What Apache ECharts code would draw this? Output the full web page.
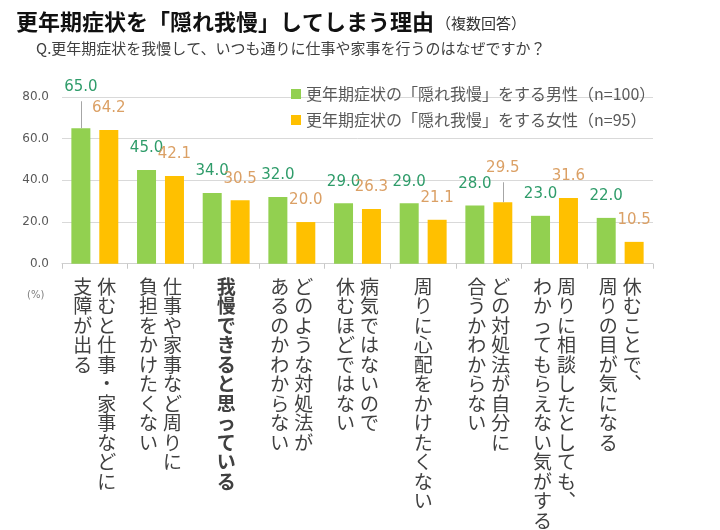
<!DOCTYPE html>
<html><head><meta charset="utf-8">
<script src="https://cdn.jsdelivr.net/npm/echarts@6/dist/echarts.min.js"></script>
<style>html,body{margin:0;padding:0;background:#fff}#c{width:720px;height:530px}</style>
</head><body><div id="c"></div>
<script>
// ---- data ----
const titleText = "更年期症状を「隠れ我慢」してしまう理由";
const titleNote = "（複数回答）";
const subtitleText = "Q.更年期症状を我慢して、いつも通りに仕事や家事を行うのはなぜですか？";
const unitText = "(%)";
// each category: columns separated by "\n" (first column is the rightmost in vertical writing)
const categories = [
  "休むと仕事・家事などに\n支障が出る",
  "仕事や家事など周りに\n負担をかけたくない",
  "我慢できると思っている",
  "どのような対処法が\nあるのかわからない",
  "病気ではないので\n休むほどではない",
  "周りに心配をかけたくない",
  "どの対処法が自分に\n合うかわからない",
  "周りに相談したとしても、\nわかってもらえない気がする",
  "休むことで、\n周りの目が気になる"
];
const seriesNames = [
  "更年期症状の「隠れ我慢」をする男性（n=100）",
  "更年期症状の「隠れ我慢」をする女性（n=95）"
];
const maleValues   = [65.0, 45.0, 34.0, 32.0, 29.0, 29.0, 28.0, 23.0, 22.0];
const femaleValues = [64.2, 42.1, 30.5, 20.0, 26.3, 21.1, 29.5, 31.6, 10.5];
const yMin = 0, yMax = 80, yStep = 20;
const emphasizedCategory = 2;      // bold category label
const maleLeaderIndex = 0;         // labels moved up with a leader line
const femaleLeaderIndex = 6;

// ---- styles ----
const JP = '"Noto Sans CJK JP", "Noto Sans", sans-serif';
const NUM = '"DejaVu Sans", Verdana, sans-serif';
const GREEN = '#92D050', ORANGE = '#FFC000';
const GREEN_LBL = '#2F9C6A', ORANGE_LBL = '#DBA065';
const BAR_W = 19, BAR_GAP = 0.47;
const BAR_HALF_PITCH = (BAR_W + BAR_W * BAR_GAP) / 2;
const LEAD = { 0: { dist: 34, len: 27 }, 1: { dist: 27, len: 20 } };

function verticalLabel(value, index) {
  const cols = String(value).split('\n').map(s => Array.from(s.replace(/、/g, '︑')));
  const n = Math.max(...cols.map(c => c.length));
  const st = index === emphasizedCategory ? 'b' : 'c';
  const rows = [];
  for (let i = 0; i < n; i++) {
    let row = '';
    for (let j = cols.length - 1; j >= 0; j--) {
      row += '{' + st + '|' + (cols[j][i] || '　') + '}';
    }
    rows.push(row);
  }
  return rows.join('\n');
}

const maleData = maleValues.map((v, i) => i === maleLeaderIndex
  ? { value: v, label: { distance: LEAD[0].dist } } : v);
const femaleData = femaleValues.map((v, i) => i === femaleLeaderIndex
  ? { value: v, label: { distance: LEAD[1].dist } } : v);
const leaderData = [
  [maleLeaderIndex, maleValues[maleLeaderIndex], 0],
  [femaleLeaderIndex, femaleValues[femaleLeaderIndex], 1]
];

const chart = echarts.init(document.getElementById('c'), null, { renderer: 'canvas' });
chart.setOption({
  backgroundColor: '#ffffff',
  animation: false,
  title: [
    {
      text: '{a|' + titleText + '}{b|' + titleNote + '}',
      left: 16, top: 11, padding: 0,
      textStyle: {
        rich: {
          a: { fontFamily: JP, fontSize: 22, fontWeight: 'bold', color: '#111111' },
          b: { fontFamily: JP, fontSize: 15, fontWeight: 'normal', color: '#333333', padding: [3, 0, 0, 2] }
        }
      }
    },
    {
      text: subtitleText,
      left: 36, top: 41, padding: 0,
      textStyle: { fontFamily: JP, fontSize: 15, fontWeight: 'normal', color: '#404040' }
    }
  ],
  graphic: [{
    type: 'text', left: 27, top: 290,
    style: { text: unitText, fontFamily: NUM, fontSize: 10, fill: '#808080' }
  }],
  legend: {
    orient: 'vertical', left: 291, top: 86, padding: 0,
    itemWidth: 10, itemHeight: 10, itemGap: 10, icon: 'rect',
    data: seriesNames,
    textStyle: { fontFamily: JP, fontSize: 16, color: '#595959' }
  },
  grid: { left: 62, right: 67, top: 97, bottom: 263, containLabel: false },
  xAxis: {
    type: 'category', data: categories,
    axisLine: { lineStyle: { color: '#D0D0D0' } },
    axisTick: { show: true, length: 5, lineStyle: { color: '#C8C8C8' } },
    axisLabel: {
      interval: 0, margin: 13, formatter: verticalLabel,
      rich: {
        c: { width: 24, align: 'center', fontFamily: JP, fontSize: 19, lineHeight: 19.5, color: '#404040' },
        b: { width: 24, align: 'center', fontFamily: JP, fontSize: 19, lineHeight: 19.5, color: '#404040', fontWeight: 'bold' }
      }
    }
  },
  yAxis: {
    type: 'value', min: yMin, max: yMax, interval: yStep,
    axisLine: { show: false }, axisTick: { show: false },
    splitLine: { lineStyle: { color: '#D9D9D9', width: 1 } },
    axisLabel: { margin: 13, fontFamily: NUM, fontSize: 12, color: '#595959',
      formatter: v => v.toFixed(1) }
  },
  series: [
    {
      name: seriesNames[0], type: 'bar', data: maleData,
      barWidth: BAR_W, barGap: (BAR_GAP * 100) + '%',
      itemStyle: { color: GREEN },
      label: { show: true, position: 'top', distance: 14, fontFamily: NUM, fontSize: 15,
        color: GREEN_LBL, formatter: p => Number(p.value).toFixed(1) }
    },
    {
      name: seriesNames[1], type: 'bar', data: femaleData,
      barWidth: BAR_W, barGap: (BAR_GAP * 100) + '%',
      itemStyle: { color: ORANGE },
      label: { show: true, position: 'top', distance: 14, fontFamily: NUM, fontSize: 15,
        color: ORANGE_LBL, formatter: p => Number(p.value).toFixed(1) }
    },
    {
      name: 'leader', type: 'custom', data: leaderData, z: 5, silent: true,
      renderItem: function (params, api) {
        const side = api.value(2);
        const p = api.coord([api.value(0), api.value(1)]);
        const x = Math.round(p[0] + (side ? BAR_HALF_PITCH : -BAR_HALF_PITCH)) + 0.5;
        const len = LEAD[side].len;
        return {
          type: 'line',
          shape: { x1: x, y1: p[1], x2: x, y2: p[1] - len },
          style: { stroke: '#A6A6A6', lineWidth: 1 }
        };
      }
    }
  ]
});
</script>
</body></html>
